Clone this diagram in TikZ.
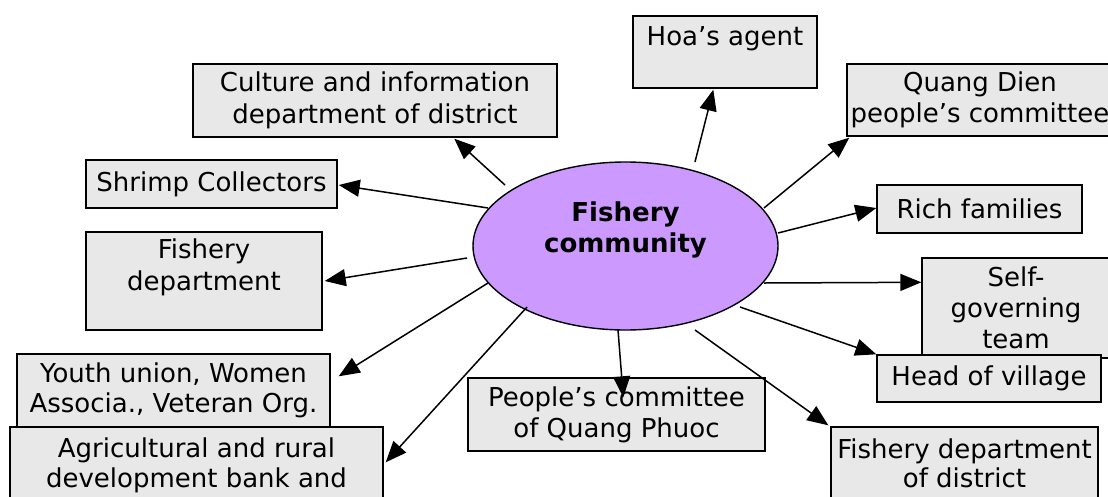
\documentclass[tikz,border=0pt]{standalone}
\usepackage{fontspec}
\setmainfont{DejaVu Sans}
\usetikzlibrary{arrows.meta,calc,shapes.geometric}
\definecolor{boxgray}{RGB}{232,232,232}
\definecolor{purp}{RGB}{204,153,255}
\tikzset{
  box/.style={draw=black, line width=1.4pt, fill=boxgray, align=center, inner sep=1pt,
    font=\fontsize{26}{31}\selectfont, text=black},
  hub/.style={draw=black, line width=1.4pt, fill=purp, ellipse, inner sep=0pt},
  arr/.style={line width=1.5pt, -{Triangle[length=21pt,width=17pt]}}
}
\begin{document}
\begin{tikzpicture}[x=1pt,y=-1pt]
\clip (0,0) rectangle (1108,496);
\fill[white] (0,0) rectangle (1108,496);
% boxes
\node[box, minimum width=184pt, minimum height=72pt] (hoa) at (725,52) {Hoa’s agent\\\mbox{}};
\node[box, minimum width=364pt, minimum height=73pt, font=\fontsize{26}{32}\selectfont] (cult) at (375,100.5) {Culture and information\\department of district};
\node[box, minimum width=266pt, minimum height=72pt] (qd) at (980,100) {Quang Dien\\people’s committee};
\node[box, minimum width=205pt, minimum height=48pt] (rich) at (979.5,209) {Rich families};
\node[box, minimum width=251pt, minimum height=48pt] (shrimp) at (211.5,184) {Shrimp Collectors};
\node[box, minimum width=236pt, minimum height=98pt, font=\fontsize{26}{32}\selectfont] (fdept) at (204,281) {Fishery\\department\\\mbox{}};
\node[box, minimum width=188pt, minimum height=100pt] (sg) at (1016,308) {Self-\\governing\\team};
\node[box, minimum width=224pt, minimum height=47pt] (head) at (989,378.5) {Head of village};
\node[box, minimum width=297pt, minimum height=73pt] (pc) at (616.5,414.5) {People’s committee\\of Quang Phuoc};
\node[box, minimum width=267pt, minimum height=73pt, font=\fontsize{26}{29}\selectfont] (fdd) at (964.5,463.5) {Fishery department\\of district};
\node[box, minimum width=313pt, minimum height=73pt, font=\fontsize{26}{30}\selectfont] (youth) at (173.5,390.5) {Youth union, Women\\Associa., Veteran Org.};
\node[box, minimum width=373pt, minimum height=102pt, font=\fontsize{26}{30}\selectfont] (agri) at (196.5,478) {Agricultural and rural\\development bank and\\\mbox{}};
% hub
\node[hub, minimum width=305pt, minimum height=168pt] (fc) at (625.5,246) {};
\node[font=\fontsize{26}{31}\selectfont\bfseries, align=center] (fctext) at (625.5,230) {Fishery\\community};
% connectors
\draw[arr] ($(fc)+(-120.5,-61)$) -- ($(cult.south west)+(262,1)$);
\draw[arr] ($(fc)+(69.5,-84)$) -- ($(hoa.south west)+(81,1)$);
\draw[arr] ($(fc)+(138.5,-38)$) -- ($(qd.south west)+(3,1)$);
\draw[arr] ($(fc)+(152.5,-13)$) -- ($(rich.west)+(0,-1)$);
\draw[arr] ($(fc)+(138.5,37)$) -- ($(sg.north west)+(0,25)$);
\draw[arr] ($(fc)+(114.5,61)$) -- (head.north west);
\draw[arr] ($(fc)+(69.5,84)$) -- ($(fdd.north west)+(-2,-1)$);
\draw[arr] ($(fc)+(-7.5,84)$) -- ($(pc.north west)+(156,20)$);
\draw[arr] ($(fc)+(-98.5,61)$) -- ($(agri.north east)+(2,36)$);
\draw[arr] ($(fc)+(-137.5,37)$) -- ($(youth.north east)+(8,23)$);
\draw[arr] ($(fc)+(-158.5,12)$) -- ($(fdept.east)+(2,0)$);
\draw[arr] ($(fc)+(-137.5,-38)$) -- ($(shrimp.east)+(1,1)$);
\end{tikzpicture}
\end{document}
